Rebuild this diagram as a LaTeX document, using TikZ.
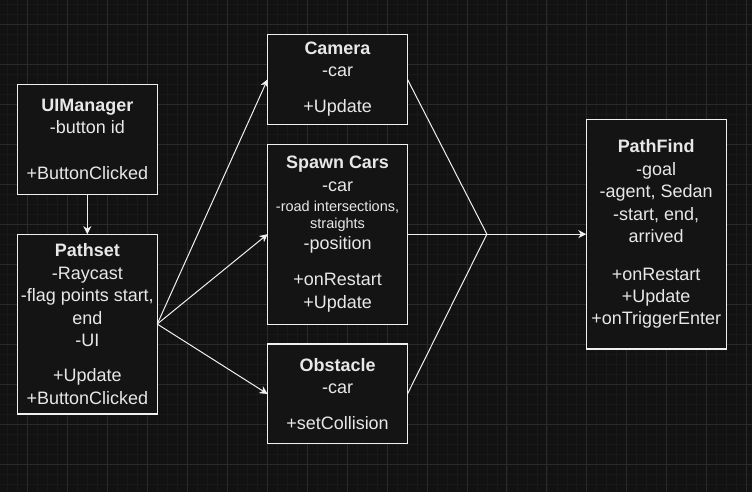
\documentclass[tikz,border=0pt]{standalone}
\usepackage{fontspec}
\setmainfont{Liberation Sans}
\usetikzlibrary{positioning,arrows.meta}

\definecolor{canvas}{HTML}{121212}
\definecolor{boxfill}{HTML}{141414}
\definecolor{minorgrid}{HTML}{191919}
\definecolor{majorgrid}{HTML}{2A2A2A}
\definecolor{linecol}{HTML}{F0F0F0}
\definecolor{textcol}{HTML}{E8E8E8}

\newcommand{\smalltxt}{\fontsize{14.5}{17}\selectfont}

\begin{document}
\begin{tikzpicture}[x=1pt,y=-1pt,node distance=20pt,
	classbox/.style={draw=linecol,fill=boxfill,line width=1.1pt,outer sep=0pt,
		inner sep=0pt,minimum width=140pt,align=center,text=textcol,
		font=\fontsize{18}{22.5}\selectfont},
	link/.style={draw=linecol,line width=1pt},
	arrow/.style={link,-{Stealth[length=8pt,width=8pt,inset=2.5pt]}}]

	% background and grid
	\fill[canvas] (0,0) rectangle (752,492);
	\foreach \x in {7,17,...,747} \draw[minorgrid,line width=0.6pt] (\x,0) -- (\x,492);
	\foreach \y in {4,14,...,484} \draw[minorgrid,line width=0.6pt] (0,\y) -- (752,\y);
	\foreach \x in {27,67,...,747} \draw[majorgrid,line width=0.8pt] (\x,0) -- (\x,492);
	\foreach \y in {24,64,...,464} \draw[majorgrid,line width=0.8pt] (0,\y) -- (752,\y);

	\node[classbox,minimum height=110pt] (uimanager) at (87,139)
		{\textbf{UIManager}\\-button id\\[23pt]+ButtonClicked};
	\node[classbox,minimum height=180pt] (pathset) [below=40pt of uimanager]
		{\textbf{Pathset}\\-Raycast\\-flag points start,\\end\\-UI\\[12.5pt]+Update\\+ButtonClicked};

	\node[classbox,minimum height=90pt] (camera) at (337.5,79)
		{\textbf{Camera}\\-car\\[13.5pt]+Update};
	\node[classbox,minimum height=180pt] (spawn) [below=of camera]
		{\textbf{Spawn Cars}\\-car\\[-2.5pt]\smalltxt -road intersections,\\[-5.5pt]\smalltxt straights\\[-1.5pt]-position\\[14pt]+onRestart\\+Update};
	\node[classbox,minimum height=100pt] (obstacle) [below=of spawn]
		{\textbf{Obstacle}\\-car\\[13.5pt]+setCollision};

	\node[classbox,minimum height=230pt] (pathfind) [right=179pt of spawn]
		{\textbf{PathFind}\\-goal\\-agent, Sedan\\-start, end,\\arrived\\[15pt]+onRestart\\+Update\\+onTriggerEnter};

	\coordinate (merge) at (487,234);

	\draw[arrow] (uimanager) -- (pathset);
	\draw[arrow] (pathset.east) -- (camera.west);
	\draw[arrow] (pathset.east) -- (spawn.west);
	\draw[arrow] (pathset.east) -- (obstacle.west);

	\draw[link] (camera.east) -- (merge);
	\draw[link] (spawn.east) -- (merge);
	\draw[link] (obstacle.east) -- (merge);
	\draw[arrow] (merge) -- (pathfind.west);

\end{tikzpicture}
\end{document}
